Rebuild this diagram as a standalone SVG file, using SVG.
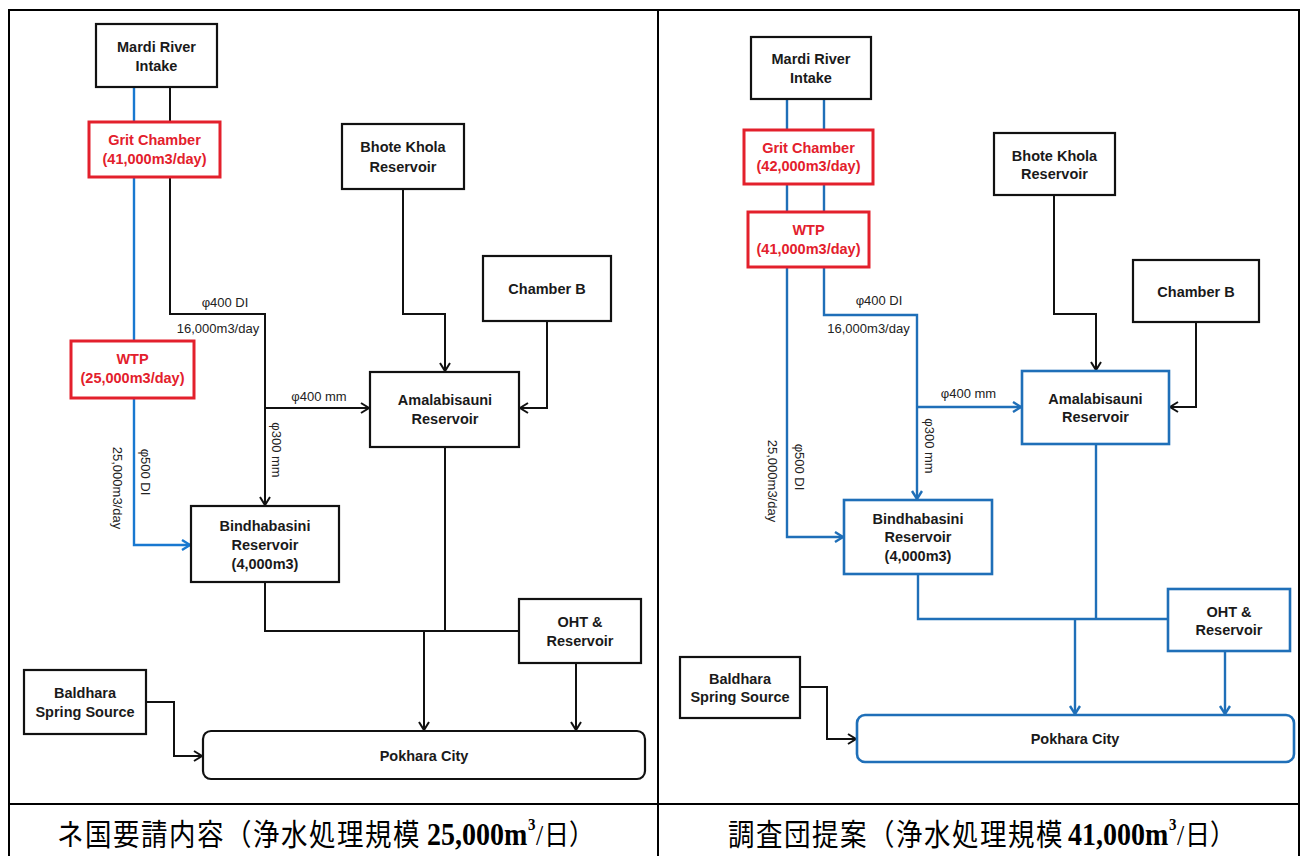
<svg xmlns="http://www.w3.org/2000/svg" width="1301" height="856" viewBox="0 0 1301 856">
  <style>
    .box { fill: #fff; stroke: #111; stroke-width: 2.2; }
    .red { fill: #fff; stroke: #e3202c; stroke-width: 3; }
    .blu { fill: #fff; stroke: #1f6fb8; stroke-width: 2.6; }
    .t { font-family: "Liberation Sans", Arial, sans-serif; font-weight: bold; font-size: 14.5px; fill: #1a1a1a; text-anchor: middle; }
    .tr { fill: #e3202c; }
    .lbl { font-family: "Liberation Sans", Arial, sans-serif; font-size: 13px; fill: #222; text-anchor: middle; }
    .vl { dominant-baseline: central; }
    .k { fill: none; stroke: #111; stroke-width: 2; }
    .bL { fill: none; stroke: #1878d0; stroke-width: 2.4; }
    .bR { fill: none; stroke: #1f6fb8; stroke-width: 2.4; }
    .frame { fill: none; stroke: #000; stroke-width: 2; }
    .cap { font-family: "Noto Sans CJK JP", sans-serif; font-size: 26.5px; fill: #000; }
    .num { font-family: "Liberation Serif", "Times New Roman", serif; font-weight: bold; font-size: 28px; }
    .sup { font-family: "Liberation Serif", "Times New Roman", serif; font-weight: bold; font-size: 15px; }
    .sl { font-family: "Liberation Serif", "Times New Roman", serif; font-size: 26px; }
    .cj { font-size: 25px; }
  </style>
  <defs>
    <marker id="ak" markerUnits="userSpaceOnUse" markerWidth="12" markerHeight="14" refX="9" refY="6" orient="auto" viewBox="0 0 12 14">
      <path d="M1,1 L9,6 L1,11" fill="none" stroke="#111" stroke-width="2"/>
    </marker>
    <marker id="abL" markerUnits="userSpaceOnUse" markerWidth="12" markerHeight="14" refX="9" refY="6" orient="auto" viewBox="0 0 12 14">
      <path d="M1,1 L9,6 L1,11" fill="none" stroke="#1878d0" stroke-width="2.4"/>
    </marker>
    <marker id="abR" markerUnits="userSpaceOnUse" markerWidth="12" markerHeight="14" refX="9" refY="6" orient="auto" viewBox="0 0 12 14">
      <path d="M1,1 L9,6 L1,11" fill="none" stroke="#1f6fb8" stroke-width="2.4"/>
    </marker>
  </defs>

  <rect width="1301" height="856" fill="#fff"/>

  <!-- table frame -->
  <g id="frame" class="frame">
    <line x1="8" y1="10" x2="1300" y2="10"/>
    <line x1="9" y1="10" x2="9" y2="856"/>
    <line x1="658" y1="10" x2="658" y2="856"/>
    <line x1="1299" y1="10" x2="1299" y2="856"/>
    <line x1="8" y1="804" x2="1300" y2="804"/>
  </g>

  <!-- ===== left scheme: connectors ===== -->
  <g id="connectors-left">
    <path class="bL" d="M134,87 V122"/>
    <path class="k" d="M170,87 V122"/>
    <path class="bL" d="M134,177 V341"/>
    <path class="bL" d="M134,398 V545 H190" marker-end="url(#abL)"/>
    <path class="k" d="M170,177 V314 H265 V505" marker-end="url(#ak)"/>
    <path class="k" d="M265,408 H369" marker-end="url(#ak)"/>
    <path class="k" d="M403,189 V314 H445 V371" marker-end="url(#ak)"/>
    <path class="k" d="M547,321 V408 H520" marker-end="url(#ak)"/>
    <path class="k" d="M445,447 V631"/>
    <path class="k" d="M265,582 V631 H519"/>
    <path class="k" d="M424,631 V730" marker-end="url(#ak)"/>
    <path class="k" d="M576,663 V730" marker-end="url(#ak)"/>
    <path class="k" d="M146,702 H174 V756 H202" marker-end="url(#ak)"/>
    <text class="lbl" x="225" y="307">φ400 DI</text>
    <text class="lbl" x="218" y="333">16,000m3/day</text>
    <text class="lbl" x="319" y="401">φ400 mm</text>
    <text class="lbl vl" x="276" y="450" transform="rotate(90 276 450)">φ300 mm</text>
    <text class="lbl vl" x="145" y="472" transform="rotate(90 145 472)">φ500 DI</text>
    <text class="lbl vl" x="117" y="488" transform="rotate(90 117 488)">25,000m3/day</text>
  </g>

  <!-- ===== left scheme: nodes ===== -->
  <g id="L-mardi"><rect class="box" x="96" y="24" width="121" height="63"/>
    <text class="t" x="156.5" y="52">Mardi River</text><text class="t" x="156.5" y="71">Intake</text></g>
  <g id="L-grit"><rect class="red" x="89" y="122" width="131" height="55"/>
    <text class="t tr" x="154.5" y="145">Grit Chamber</text><text class="t tr" x="154.5" y="164">(41,000m3/day)</text></g>
  <g id="L-wtp"><rect class="red" x="71" y="341" width="123" height="57"/>
    <text class="t tr" x="132.5" y="364">WTP</text><text class="t tr" x="132.5" y="383">(25,000m3/day)</text></g>
  <g id="L-bhote"><rect class="box" x="342" y="124" width="122" height="65"/>
    <text class="t" x="403" y="152">Bhote Khola</text><text class="t" x="403" y="172">Reservoir</text></g>
  <g id="L-chamberb"><rect class="box" x="483" y="256" width="128" height="65"/>
    <text class="t" x="547" y="294">Chamber B</text></g>
  <g id="L-amalabisauni"><rect class="box" x="370" y="372" width="149" height="75"/>
    <text class="t" x="445" y="405">Amalabisauni</text><text class="t" x="445" y="424">Reservoir</text></g>
  <g id="L-bindhabasini"><rect class="box" x="191" y="506" width="148" height="76"/>
    <text class="t" x="265" y="531">Bindhabasini</text><text class="t" x="265" y="550">Reservoir</text><text class="t" x="265" y="569">(4,000m3)</text></g>
  <g id="L-oht"><rect class="box" x="519" y="599" width="122" height="64"/>
    <text class="t" x="580" y="627">OHT &amp;</text><text class="t" x="580" y="646">Reservoir</text></g>
  <g id="L-baldhara"><rect class="box" x="24" y="670" width="122" height="64"/>
    <text class="t" x="85" y="698">Baldhara</text><text class="t" x="85" y="717">Spring Source</text></g>
  <g id="L-pokhara"><rect class="box" x="203" y="731" width="442" height="48" rx="8"/>
    <text class="t" x="424" y="761">Pokhara City</text></g>

  <!-- ===== right scheme: connectors ===== -->
  <g id="connectors-right">
    <path class="bR" d="M787,99 V130 M824,99 V130"/>
    <path class="bR" d="M787,184 V212 M824,184 V212"/>
    <path class="bR" d="M787,267 V537 H843" marker-end="url(#abR)"/>
    <path class="bR" d="M824,267 V315 H917 V499" marker-end="url(#abR)"/>
    <path class="bR" d="M917,407 H1021" marker-end="url(#abR)"/>
    <path class="k" d="M1054,195 V314 H1096 V370" marker-end="url(#ak)"/>
    <path class="k" d="M1196,322 V407 H1170" marker-end="url(#ak)"/>
    <path class="bR" d="M1096,444 V619"/>
    <path class="bR" d="M918,574 V619 H1168"/>
    <path class="bR" d="M1075,619 V714" marker-end="url(#abR)"/>
    <path class="bR" d="M1225,651 V714" marker-end="url(#abR)"/>
    <path class="k" d="M800,687 H827 V739 H856" marker-end="url(#ak)"/>
    <text class="lbl" x="879" y="305">φ400 DI</text>
    <text class="lbl" x="868.5" y="333">16,000m3/day</text>
    <text class="lbl" x="968.5" y="398">φ400 mm</text>
    <text class="lbl vl" x="929" y="446" transform="rotate(90 929 446)">φ300 mm</text>
    <text class="lbl vl" x="799" y="467" transform="rotate(90 799 467)">φ500 DI</text>
    <text class="lbl vl" x="772" y="481" transform="rotate(90 772 481)">25,000m3/day</text>
  </g>

  <!-- ===== right scheme: nodes ===== -->
  <g id="R-mardi"><rect class="box" x="751" y="37" width="120" height="62"/>
    <text class="t" x="811" y="64">Mardi River</text><text class="t" x="811" y="83">Intake</text></g>
  <g id="R-grit"><rect class="red" x="744" y="130" width="129" height="54"/>
    <text class="t tr" x="808.5" y="153">Grit Chamber</text><text class="t tr" x="808.5" y="171">(42,000m3/day)</text></g>
  <g id="R-wtp"><rect class="red" x="748" y="212" width="121" height="55"/>
    <text class="t tr" x="808.5" y="235">WTP</text><text class="t tr" x="808.5" y="254">(41,000m3/day)</text></g>
  <g id="R-bhote"><rect class="box" x="994" y="133" width="121" height="62"/>
    <text class="t" x="1054.5" y="161">Bhote Khola</text><text class="t" x="1054.5" y="179">Reservoir</text></g>
  <g id="R-chamberb"><rect class="box" x="1133" y="260" width="126" height="62"/>
    <text class="t" x="1196" y="297">Chamber B</text></g>
  <g id="R-amalabisauni"><rect class="blu" x="1022" y="371" width="147" height="73"/>
    <text class="t" x="1095.5" y="404">Amalabisauni</text><text class="t" x="1095.5" y="422">Reservoir</text></g>
  <g id="R-bindhabasini"><rect class="blu" x="844" y="500" width="148" height="74"/>
    <text class="t" x="918" y="524">Bindhabasini</text><text class="t" x="918" y="542">Reservoir</text><text class="t" x="918" y="561">(4,000m3)</text></g>
  <g id="R-oht"><rect class="blu" x="1168" y="589" width="122" height="62"/>
    <text class="t" x="1229" y="617">OHT &amp;</text><text class="t" x="1229" y="635">Reservoir</text></g>
  <g id="R-baldhara"><rect class="box" x="680" y="657" width="120" height="61"/>
    <text class="t" x="740" y="684">Baldhara</text><text class="t" x="740" y="702">Spring Source</text></g>
  <g id="R-pokhara"><rect class="blu" x="857" y="715" width="437" height="47" rx="8"/>
    <text class="t" x="1075" y="744">Pokhara City</text></g>

  <!-- captions (slightly tall glyphs) -->
  <g id="caption-left" transform="translate(0 845) scale(1 1.12) translate(0 -845)">
    <text class="cap" x="57" y="845" letter-spacing="1.5">ネ国要請内容（浄水処理規模</text>
    <text class="num" x="427" y="845">25,000m</text>
    <text class="sup" x="528" y="832">3</text>
    <text class="sl" x="536" y="845">/</text>
    <text class="cap cj" x="544" y="845">日）</text>
  </g>
  <g id="caption-right" transform="translate(0 845) scale(1 1.12) translate(0 -845)">
    <text class="cap" x="728" y="845" letter-spacing="1.5">調査団提案（浄水処理規模</text>
    <text class="num" x="1068" y="845">41,000m</text>
    <text class="sup" x="1169" y="832">3</text>
    <text class="sl" x="1177" y="845">/</text>
    <text class="cap cj" x="1185" y="845">日）</text>
  </g>
</svg>
